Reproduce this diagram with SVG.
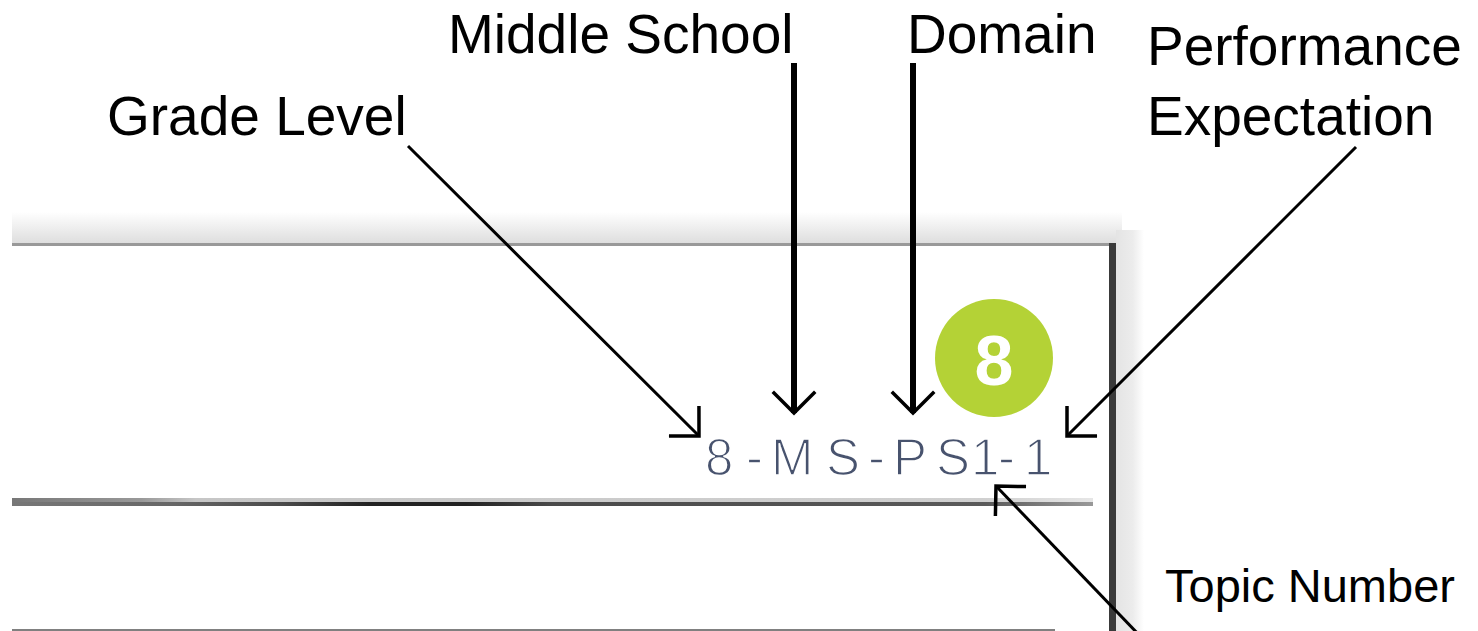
<svg xmlns="http://www.w3.org/2000/svg" width="1478" height="631" viewBox="0 0 1478 631">
  <style>
    .label { font-family: "Liberation Sans", Arial, sans-serif; font-size: 55px; fill: #000; }
    .label-plain { font-family: "Liberation Sans", Arial, sans-serif; font-size: 47px; fill: #000; }
    .code { font-family: "Liberation Sans", Arial, sans-serif; font-size: 51px; fill: #48536e; stroke: #fff; stroke-width: 1.6; }
    .badge-num { font-family: "Liberation Sans", Arial, sans-serif; font-size: 70px; font-weight: bold; fill: #fff; }
    .thin { fill: none; stroke: #000; stroke-width: 3; }
    .thick { fill: none; stroke: #000; stroke-width: 6; }
  </style>
  <defs>
    <!-- open 90-degree arrowhead -->
    <marker id="arrow" markerUnits="userSpaceOnUse" viewBox="-24 -24 28 48" refX="0" refY="0" markerWidth="28" markerHeight="48" orient="auto" overflow="visible">
      <path d="M-20,-20 L0,0 L-20,20" fill="none" stroke="#000" stroke-width="3.5" stroke-linecap="square"/>
    </marker>
    <linearGradient id="topShadow" x1="0" y1="0" x2="0" y2="1">
      <stop offset="0" stop-color="#ffffff"/>
      <stop offset="1" stop-color="#dedede"/>
    </linearGradient>
    <linearGradient id="sideShadow" x1="0" y1="0" x2="1" y2="0">
      <stop offset="0" stop-color="#e4e4e4"/>
      <stop offset="0.6" stop-color="#ececec"/>
      <stop offset="1" stop-color="#ffffff"/>
    </linearGradient>
    <linearGradient id="ruleLight" x1="12" y1="0" x2="1093" y2="0" gradientUnits="userSpaceOnUse">
      <stop offset="0" stop-color="#777"/>
      <stop offset="0.12" stop-color="#999"/>
      <stop offset="0.17" stop-color="#c6c6c6"/>
      <stop offset="0.9" stop-color="#d0d0d0"/>
      <stop offset="1" stop-color="#e6e6e6"/>
    </linearGradient>
    <linearGradient id="ruleDark" x1="12" y1="0" x2="1093" y2="0" gradientUnits="userSpaceOnUse">
      <stop offset="0" stop-color="#777"/>
      <stop offset="0.15" stop-color="#666"/>
      <stop offset="0.25" stop-color="#4a4a4a"/>
      <stop offset="0.33" stop-color="#222"/>
      <stop offset="0.42" stop-color="#222"/>
      <stop offset="0.5" stop-color="#4a4a4a"/>
      <stop offset="0.9" stop-color="#5a5a5a"/>
      <stop offset="1" stop-color="#999"/>
    </linearGradient>
  </defs>

  <rect width="1478" height="631" fill="#fff"/>

  <!-- card frame -->
  <g id="card">
    <rect x="12" y="212" width="1110" height="31" fill="url(#topShadow)"/>
    <rect x="1116" y="230" width="28" height="401" fill="url(#sideShadow)"/>
    <rect x="12" y="243" width="1098" height="3" fill="#999"/>
    <rect x="1109" y="243" width="7" height="388" fill="#3a3a3a"/>
    <rect x="12" y="498" width="1081" height="4" fill="url(#ruleLight)"/>
    <rect x="12" y="502" width="1081" height="4" fill="url(#ruleDark)"/>
    <rect x="12" y="629" width="1043" height="2" fill="#808080"/>
  </g>

  <!-- grade badge -->
  <g id="badge">
    <circle cx="994" cy="358" r="59" fill="#b4d236"/>
    <text class="badge-num" x="994" y="385" text-anchor="middle">8</text>
  </g>

  <!-- standard code, glyphs spaced out individually; white stroke thins the strokes -->
  <g id="code">
    <text class="code" x="705 746 771 826 868 893 936 971 998 1024" y="475">8-MS-PS1-1</text>
  </g>

  <!-- labels -->
  <g id="grade-level">
    <text class="label" x="107" y="135">Grade Level</text>
  </g>
  <g id="middle-school">
    <text class="label" x="448" y="53">Middle School</text>
  </g>
  <g id="domain">
    <text class="label" x="907" y="53">Domain</text>
  </g>
  <g id="performance-expectation">
    <text class="label" x="1147" y="65">Performance</text>
    <text class="label" x="1147" y="135">Expectation</text>
  </g>
  <g id="topic-number">
    <text class="label-plain" x="1165" y="602">Topic Number</text>
  </g>

  <!-- connectors -->
  <g id="connectors">
    <path class="thin" d="M408,146 L699,436" marker-end="url(#arrow)"/>
    <path class="thick" d="M794,63 L794,413" marker-end="url(#arrow)"/>
    <path class="thick" d="M913,63 L913,413" marker-end="url(#arrow)"/>
    <path class="thin" d="M1356,147 L1067,436" marker-end="url(#arrow)"/>
    <path class="thin" d="M1142,638 L996,486" marker-end="url(#arrow)"/>
  </g>
</svg>
